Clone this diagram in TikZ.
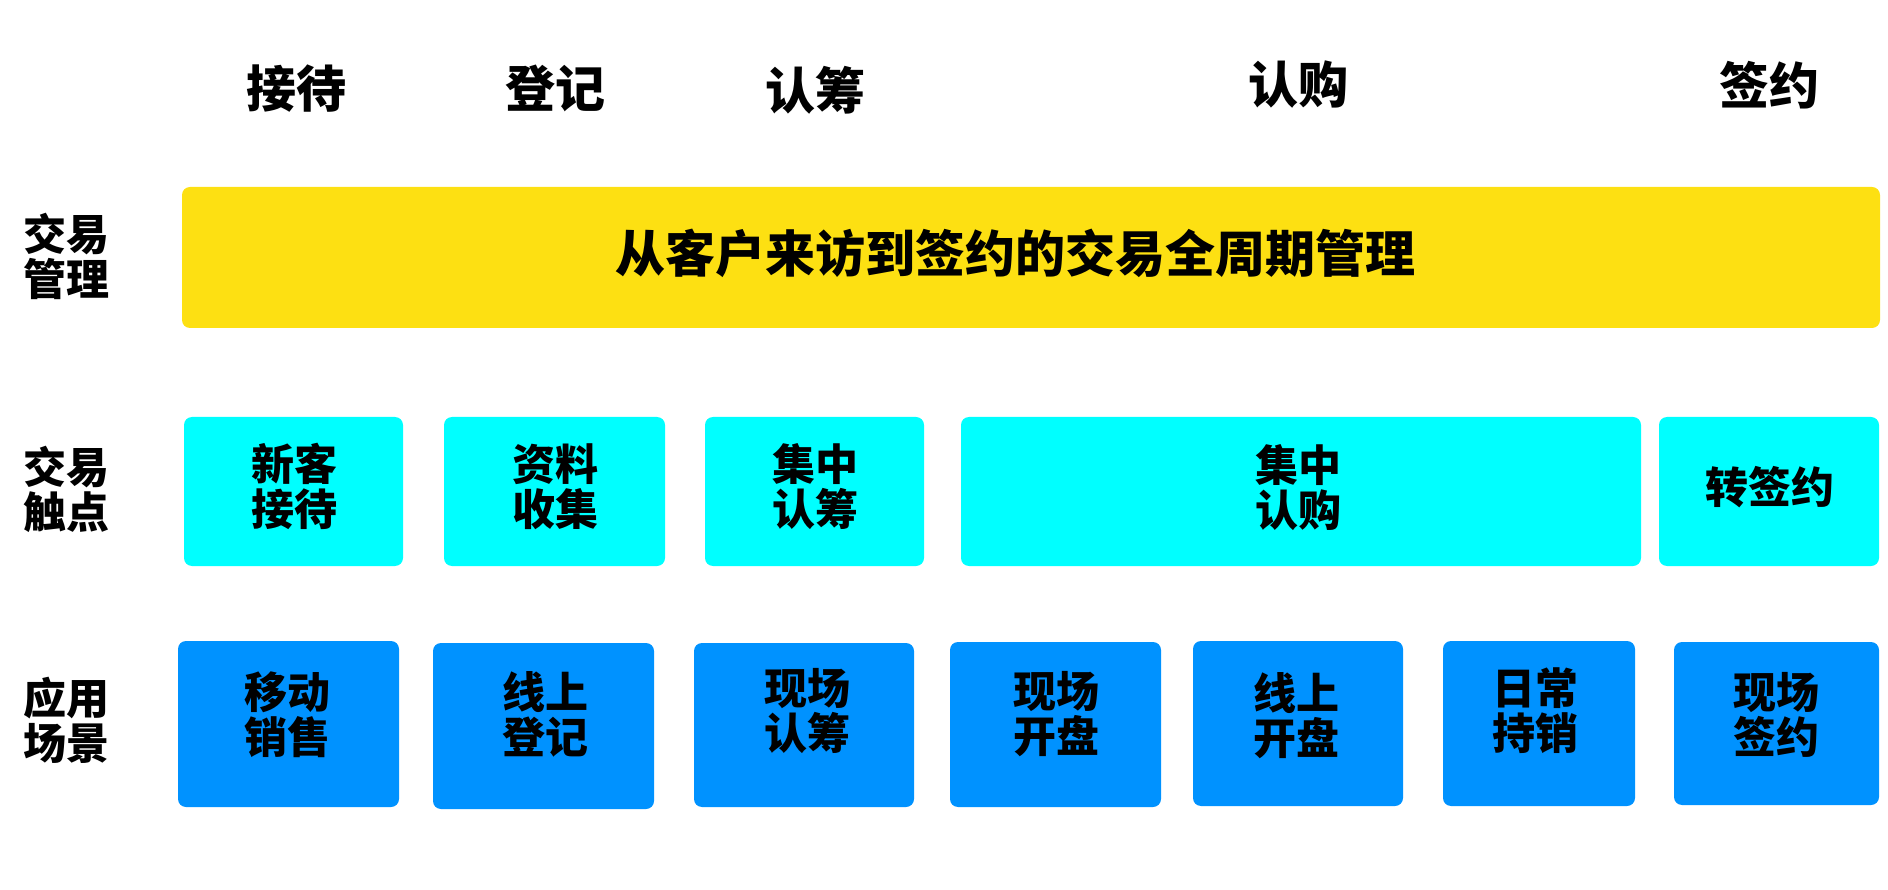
\documentclass[tikz,border=0pt]{standalone}
\usepackage{fontspec}
\newfontfamily\cjk{Noto Sans CJK SC}
\definecolor{yel}{RGB}{253,224,18}
\definecolor{cy}{RGB}{0,255,255}
\definecolor{bl}{RGB}{0,146,255}
\tikzset{
  panel/.style={rectangle, rounded corners=8pt, draw=none, inner sep=0pt},
  big/.style={font=\cjk\bfseries\fontsize{50}{54}\selectfont, inner sep=0pt, align=center},
  mid/.style={font=\cjk\bfseries\fontsize{43}{45}\selectfont, inner sep=0pt, align=center},
}
\newcommand{\pbox}[6]{% name, color, x1, y1, x2, y2
  \node[panel, fill=#2, minimum width={(#5-#3)*1pt}, minimum height={(#6-#4)*1pt}] (#1) at ({(#3+#5)/2},{(#4+#6)/2}) {};}
\begin{document}
\begin{tikzpicture}[x=1pt,y=-1pt]
\useasboundingbox (0,0) rectangle (1888,890);
% headers
\node[big] (h1) at (296,89) {接待};
\node[big] (h2) at (555,88) {登记};
\node[big] (h3) at (815,90) {认筹};
\node[big] (h4) at (1298,85) {认购};
\node[big] (h5) at (1769,85) {签约};
% row labels
\node[mid] (l1) at (66.5,256) {交易\\管理};
\node[mid] (l2) at (66.5,489) {交易\\触点};
\node[mid] (l3) at (66.5,720.5) {应用\\场景};
% management
\pbox{mg}{yel}{182}{187}{1880}{328}
\node[big] (mgt) at (1015,253.5) {从客户来访到签约的交易全周期管理};
% touch points
\pbox{c1}{cy}{184}{417}{403}{566}
\pbox{c2}{cy}{444}{417}{665}{566}
\pbox{c3}{cy}{705}{417}{924}{566}
\pbox{c4}{cy}{961}{417}{1641}{566}
\pbox{c5}{cy}{1659}{417}{1879}{566}
\node[mid] (c1t) at (294.5,486.5) {新客\\接待};
\node[mid] (c2t) at (555.5,487) {资料\\收集};
\node[mid] (c3t) at (815,487) {集中\\认筹};
\node[mid] (c4t) at (1298,487.5) {集中\\认购};
\node[mid] (c5t) at (1770,487.5) {转签约};
% scenarios
\pbox{b1}{bl}{178}{641}{399}{807}
\pbox{b2}{bl}{433}{643}{654}{809}
\pbox{b3}{bl}{694}{643}{914}{807}
\pbox{b4}{bl}{950}{642}{1161}{807}
\pbox{b5}{bl}{1193}{641}{1403}{806}
\pbox{b6}{bl}{1443}{641}{1635}{806}
\pbox{b7}{bl}{1674}{642}{1879}{805}
\node[mid] (b1t) at (287,715) {移动\\销售};
\node[mid] (b2t) at (545,714) {线上\\登记};
\node[mid] (b3t) at (807,711.5) {现场\\认筹};
\node[mid] (b4t) at (1056,714.5) {现场\\开盘};
\node[mid] (b5t) at (1296,716) {线上\\开盘};
\node[mid] (b6t) at (1535,711) {日常\\持销};
\node[mid] (b7t) at (1776,714.5) {现场\\签约};
\end{tikzpicture}
\end{document}
